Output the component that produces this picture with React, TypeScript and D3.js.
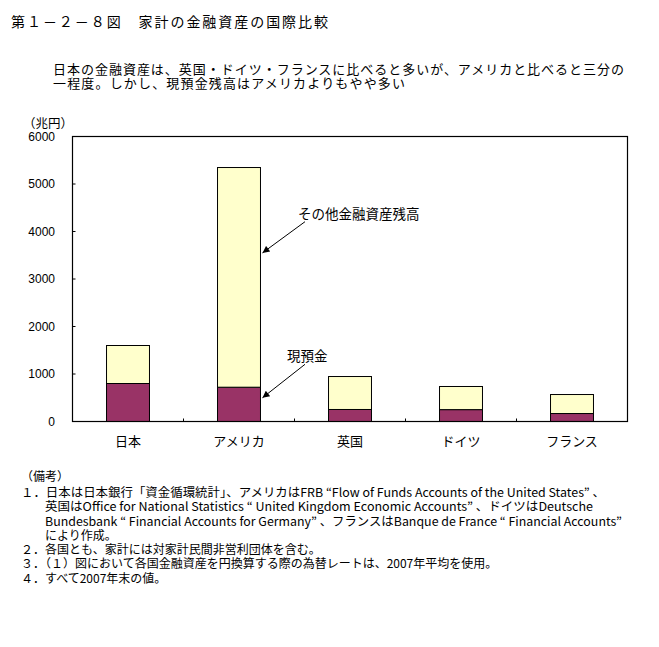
import React from "react";
import * as d3 from "d3";

const categories = ["日本", "アメリカ", "英国", "ドイツ", "フランス"];
const depositValues = [800, 722, 253, 250, 168];
const otherValues = [800, 4625, 694, 487, 400];
const yTicks = [0, 1000, 2000, 3000, 4000, 5000, 6000];
const seriesNames = ["現預金", "その他金融資産残高"];
const seriesColors = ["#993366", "#FFFFCC"];

const titleText = "第１－２－８図　家計の金融資産の国際比較";
const subtitleLines = [
  "日本の金融資産は、英国・ドイツ・フランスに比べると多いが、アメリカと比べると三分の",
  "一程度。しかし、現預金残高はアメリカよりもやや多い",
];
const notesHeader = "（備考）";
const noteLines = [
  "１．日本は日本銀行「資金循環統計」、アメリカはFRB “Flow of Funds Accounts of the United States” 、",
  "英国はOffice for National Statistics “ United Kingdom Economic Accounts” 、ドイツはDeutsche",
  "Bundesbank “ Financial Accounts for Germany” 、フランスはBanque de France “ Financial Accounts”",
  "により作成。",
  "２．各国とも、家計には対家計民間非営利団体を含む。",
  "３．（１）図において各国金融資産を円換算する際の為替レートは、2007年平均を使用。",
  "４．すべて2007年末の値。",
];
const unitLabel = "（兆円）";

const JP = "'Noto Sans CJK JP', 'Noto Sans', sans-serif";
const NUM = "'Liberation Sans', Arial, sans-serif";

export default function App() {
  const W = 659;
  const H = 647;
  const plot = { left: 72.5, right: 627.5, top: 136.5, bottom: 421.5 };

  const x = d3
    .scaleBand<string>()
    .domain(categories)
    .range([plot.left, plot.right])
    .padding(0);
  const y = d3.scaleLinear().domain([0, 6000]).range([plot.bottom, plot.top]);
  const barW = x.bandwidth() * 0.387;

  const stacked = categories.map((c, i) => ({
    cat: c,
    segs: [
      { y0: 0, y1: depositValues[i], color: seriesColors[0] },
      {
        y0: depositValues[i],
        y1: depositValues[i] + otherValues[i],
        color: seriesColors[1],
      },
    ],
  }));

  const noteX = [21, 45, 45, 45, 21, 21, 21];
  const noteY = [491.7, 505.7, 520, 534, 548.3, 562.7, 577.3];
  const noteLen: (number | undefined)[] = [584, 548, 577, undefined, undefined, undefined, undefined];

  const usa = categories[1];
  const usaRight = (x(usa) as number) + x.bandwidth() / 2 + barW / 2;

  return (
    <div style={{ position: "absolute", left: 0, top: 0 }}>
      <svg width={W} height={H} style={{ display: "block", background: "#fff" }}>
        <defs>
          <marker
            id="arr"
            viewBox="0 0 10 10"
            refX="10"
            refY="5"
            markerWidth="9"
            markerHeight="7"
            markerUnits="userSpaceOnUse"
            orient="auto"
          >
            <path d="M0,0 L10,5 L0,10 z" fill="#000" />
          </marker>
        </defs>

        {/* Title */}
        <text
          x={11}
          y={20.7}
          fontFamily={JP}
          fontSize={14}
          dominantBaseline="central"
          textLength={317}
          lengthAdjust="spacing"
        >
          {titleText}
        </text>
        {subtitleLines.map((t, i) => (
          <text
            key={i}
            x={53}
            y={[68.3, 82][i]}
            fontFamily={JP}
            fontSize={13}
            dominantBaseline="central"
            textLength={[571, 352][i]}
            lengthAdjust="spacing"
          >
            {t}
          </text>
        ))}

        {/* Unit label */}
        <text x={23} y={122.7} fontFamily={JP} fontSize={12.5} dominantBaseline="central">
          {unitLabel}
        </text>

        {/* Bars */}
        {stacked.map((d) =>
          d.segs.map((s, j) => (
            <rect
              key={d.cat + j}
              x={(x(d.cat) as number) + x.bandwidth() / 2 - barW / 2}
              y={y(s.y1)}
              width={barW}
              height={y(s.y0) - y(s.y1)}
              fill={s.color}
              stroke="#000"
              strokeWidth={1}
            />
          ))
        )}

        {/* Plot frame */}
        <rect
          x={plot.left}
          y={plot.top}
          width={plot.right - plot.left}
          height={plot.bottom - plot.top}
          fill="none"
          stroke="#000"
          strokeWidth={1.2}
        />

        {/* Y ticks and labels */}
        {yTicks.map((t) => (
          <g key={t}>
            <line x1={plot.left} x2={plot.left + 3} y1={y(t)} y2={y(t)} stroke="#000" />
            <text
              x={55}
              y={y(t)}
              textAnchor="end"
              dominantBaseline="central"
              fontFamily={NUM}
              fontSize={12}
            >
              {t}
            </text>
          </g>
        ))}

        {/* X ticks and labels */}
        {categories.map((c, i) => (
          <g key={c}>
            {i > 0 && (
              <line
                x1={x(c) as number}
                x2={x(c) as number}
                y1={plot.bottom}
                y2={plot.bottom - 3}
                stroke="#000"
              />
            )}
            <text
              x={(x(c) as number) + x.bandwidth() / 2}
              y={440}
              textAnchor="middle"
              dominantBaseline="central"
              fontFamily={JP}
              fontSize={13}
            >
              {c}
            </text>
          </g>
        ))}

        {/* Annotations */}
        <text x={298} y={213} fontFamily={JP} fontSize={13.5} dominantBaseline="central">
          {seriesNames[1]}
        </text>
        <line
          x1={305}
          y1={221.7}
          x2={usaRight + 2}
          y2={y(3550)}
          stroke="#000"
          strokeWidth={1}
          markerEnd="url(#arr)"
        />
        <text x={287} y={355} fontFamily={JP} fontSize={13.5} dominantBaseline="central">
          {seriesNames[0]}
        </text>
        <line
          x1={305}
          y1={364.3}
          x2={usaRight + 2}
          y2={y(500)}
          stroke="#000"
          strokeWidth={1}
          markerEnd="url(#arr)"
        />

        {/* Notes */}
        <text x={21} y={475} fontFamily={JP} fontSize={12} dominantBaseline="central">
          {notesHeader}
        </text>
        {noteLines.map((t, i) => (
          <text
            key={i}
            x={noteX[i]}
            y={noteY[i]}
            fontFamily={JP}
            fontSize={12}
            dominantBaseline="central"
            {...(noteLen[i] ? { textLength: noteLen[i], lengthAdjust: "spacingAndGlyphs" } : {})}
          >
            {t}
          </text>
        ))}
      </svg>
    </div>
  );
}
